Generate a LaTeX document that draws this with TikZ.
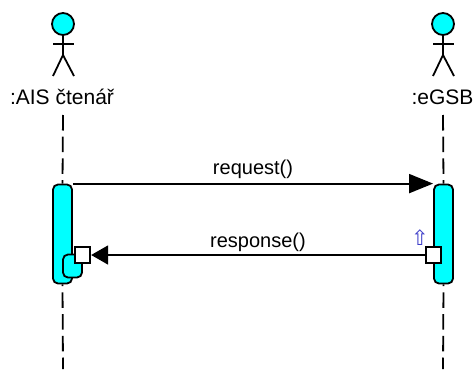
\documentclass[tikz,border=0pt]{standalone}
\usepackage{fontspec}
\setmainfont{Liberation Sans}
\newfontfamily\arrowfont{DejaVu Sans}
\usetikzlibrary{arrows.meta}
\definecolor{barcyan}{RGB}{0,255,255}
\definecolor{markblue}{RGB}{60,60,200}
\tikzset{
  line/.style={line width=1.8pt},
  lifeline/.style={line width=1.8pt,dash pattern=on 15.5pt off 6.2pt},
  bar/.style={draw,line width=1.8pt,fill=barcyan,rounded corners=5pt,inner sep=0pt,minimum width=19pt,minimum height=99pt},
  selfbar/.style={draw,line width=1.8pt,fill=barcyan,rounded corners=5pt,inner sep=0pt,minimum width=19pt,minimum height=23pt},
  port/.style={draw,line width=1.8pt,fill=white,inner sep=0pt,minimum size=15.5pt},
  head/.style={circle,draw,line width=1.8pt,fill=barcyan,inner sep=0pt,minimum size=22pt},
  label/.style={font=\fontsize{21}{21}\selectfont,inner sep=0pt},
  msglabel/.style={font=\fontsize{20}{20}\selectfont,inner sep=0pt,anchor=base},
  call/.style={line width=1.8pt,-{Triangle[length=24pt,width=19pt]}},
  reply/.style={line width=1.8pt,-{Triangle[length=17pt,width=19pt]}}
}
\begin{document}
\begin{tikzpicture}[x=1pt,y=-1pt]
  \useasboundingbox (0,0) rectangle (473,369);

  %Draw left actor
  \node[head] (readerhead) at (63,24) {};
  \draw[line] (readerhead) -- (63,55) coordinate (readerhip);
  \draw[line] (53,44) -- (74,44);
  \draw[line] (53,76) -- (readerhip) -- (74,76);
  \node[label] (readerlabel) at (62,97) {:AIS čtenář};

  %Draw right actor
  \node[head] (gsbhead) at (443,24) {};
  \draw[line] (gsbhead) -- (443,55) coordinate (gsbhip);
  \draw[line] (433,44) -- (454,44);
  \draw[line] (433,76) -- (gsbhip) -- (454,76);
  \node[label] (gsblabel) at (442.5,97) {:eGSB};

  % Draw activation bars
  \node[bar] (readerbar) at (62.5,234) {};
  \node[bar] (gsbbar) at (443.5,234) {};
  \node[selfbar] (selfcall) at (72.5,266) {};

  % Draw dashed lifelines
  \coordinate (readertop) at (63,115);
  \coordinate (readerend) at (63,369);
  \coordinate (gsbtop) at (443,115);
  \coordinate (gsbend) at (443,369);
  \draw[lifeline] (readertop) -- (readerbar.north);
  \draw[lifeline,dash phase=-8pt] (readerbar.south) -- (readerend);
  \draw[lifeline] (gsbtop) -- (gsbbar.north);
  \draw[lifeline,dash phase=-8pt] (gsbbar.south) -- (gsbend);

  % Draw ports on the response message
  \node[port] (readerport) at (82.5,255) {};
  \node[port] (gsbport) at (433.5,255) {};

  %Draw messages
  \draw[call] (readerbar.north east) -- node[msglabel,yshift=9pt]{request()} (gsbbar.north west);
  \draw[reply] (gsbport) -- node[msglabel,yshift=8pt]{response()} (readerport);

  \node[font=\arrowfont\fontsize{21}{21}\selectfont,text=markblue,inner sep=0pt] (upmark) at (420,238) {⇧};
\end{tikzpicture}
\end{document}
